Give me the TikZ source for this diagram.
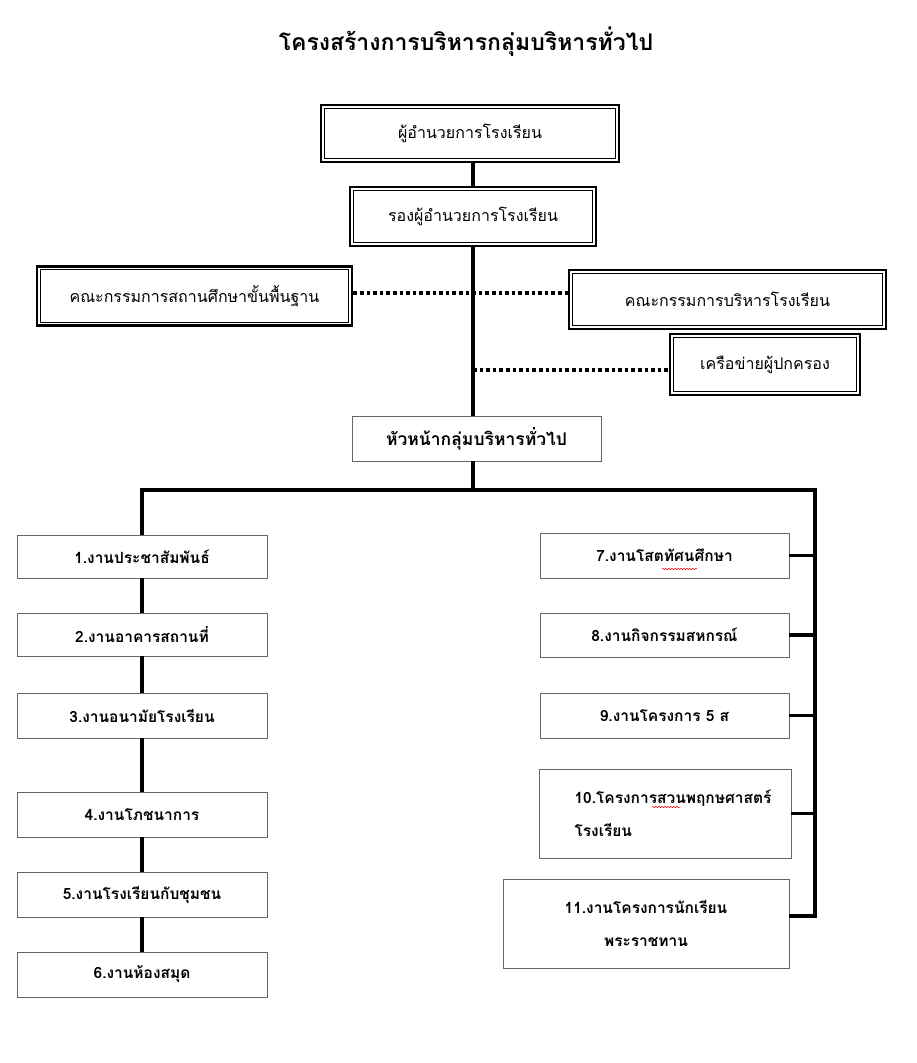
\documentclass[tikz,border=0pt]{standalone}
\usepackage{fontspec}
\newfontfamily\thai[Script=Thai]{Loma}
\usetikzlibrary{decorations.pathmorphing}
\newcommand\innerframe[1]{\draw[line width=0.8pt] ([shift={(4.6pt,-4.6pt)}]#1.north west) rectangle ([shift={(-4.6pt,4.6pt)}]#1.south east);}
\begin{document}
\begin{tikzpicture}[x=1pt,y=-1pt,
  dbl/.style={draw,line width=2.6pt,fill=white,inner sep=0pt,font=\thai\fontsize{16}{20}\selectfont},
  item/.style={draw=black!60,line width=0.9pt,fill=white,inner sep=0pt,font=\thai\bfseries\fontsize{15.5}{19}\selectfont},
  conn/.style={line width=3.6pt},
  dots/.style={line width=3.6pt,dash pattern=on 3.6pt off 3pt},
  squig/.style={red,line width=0.5pt,decorate,decoration={snake,amplitude=0.7pt,segment length=3pt}}]
\useasboundingbox[fill=white] (0,0) rectangle (916,1063);

\node[font=\thai\bfseries\fontsize{23}{28}\selectfont] (title) at (466,42) {โครงสร้างการบริหารกลุ่มบริหารทั่วไป};

\node[dbl,minimum width=298pt,minimum height=57pt] (dir) at (470,133.5) {ผู้อำนวยการโรงเรียน};
\node[dbl,minimum width=246pt,minimum height=59pt] (dep) at (473,216.5) {รองผู้อำนวยการโรงเรียน};
\node[dbl,minimum width=315pt,minimum height=59pt] (bc) at (194.5,296) {คณะกรรมการสถานศึกษาขั้นพื้นฐาน};
\node[dbl,minimum width=317pt,minimum height=59pt] (sc) at (727.5,299.5) {คณะกรรมการบริหารโรงเรียน};
\node[dbl,minimum width=190pt,minimum height=61pt] (net) at (765,364.5) {เครือข่ายผู้ปกครอง};
\foreach \n in {dir,dep,bc,sc,net}{\innerframe{\n}}

\node[item,font=\thai\bfseries\fontsize{17.5}{20}\selectfont,minimum width=249pt,minimum height=45pt] (hd) at (476.5,438.5) {หัวหน้ากลุ่มบริหารทั่วไป};

\node[item,minimum width=250pt,minimum height=43pt] (b1) at (142,556.5) {1.งานประชาสัมพันธ์};
\node[item,minimum width=250pt,minimum height=43pt] (b2) at (142,634.5) {2.งานอาคารสถานที่};
\node[item,minimum width=250pt,minimum height=45pt] (b3) at (142,715.5) {3.งานอนามัยโรงเรียน};
\node[item,minimum width=250pt,minimum height=45pt] (b4) at (142,814.5) {4.งานโภชนาการ};
\node[item,minimum width=250pt,minimum height=45pt] (b5) at (142,894.5) {5.งานโรงเรียนกับชุมชน};
\node[item,minimum width=250pt,minimum height=45pt] (b6) at (142,974.5) {6.งานห้องสมุด};

\node[item,minimum width=249pt,minimum height=45pt] (b7) at (664.5,555.5) {7.งานโสตทัศนศึกษา};
\node[item,minimum width=249pt,minimum height=44pt] (b8) at (664.5,635) {8.งานกิจกรรมสหกรณ์};
\node[item,minimum width=249pt,minimum height=45pt] (b9) at (664.5,715.5) {9.งานโครงการ 5 ส};
\node[item,minimum width=252pt,minimum height=89pt,align=left] (b10) at (665,813.5) {\hspace*{16pt}10.โครงการสวนพฤกษศาสตร์\\[14pt]\hspace*{16pt}โรงเรียน};
\node[item,minimum width=286pt,minimum height=89pt,align=center] (b11) at (646,923.5) {11.งานโครงการนักเรียน\\[14pt]พระราชทาน};

% spell-check marks
\draw[squig] (662,569) -- (697,569);
\draw[squig] (652,807) -- (680,807);

% connectors
\draw[conn] (dep.north) -- (dep.north |- dir.south);
\draw[conn] (dep.south) -- (dep.south |- hd.north);
\coordinate (bus) at (473,490);
\coordinate (rb) at (815,490);
\coordinate (nt) at (473,370);
\coordinate (r11) at ([yshift=7.5pt]b11.east);
\draw[dots] ([yshift=3pt]bc.east) -- ([yshift=3pt]bc.east -| sc.west);
\draw[dots] (nt) -- (nt -| net.west);
\draw[conn] (hd.south -| bus) -- (bus);
\draw[conn] (b1.north) |- (bus) -- (rb) -- (rb |- r11) -- (r11);
\draw[conn] (b1.south) -- (b2.north);
\draw[conn] (b2.south) -- (b3.north);
\draw[conn] (b3.south) -- (b4.north);
\draw[conn] (b4.south) -- (b5.north);
\draw[conn] (b5.south) -- (b6.north);
\foreach \n in {b7,b8,b9,b10}{\draw[conn] (\n.east) -- (\n.east -| rb);}
\end{tikzpicture}
\end{document}
